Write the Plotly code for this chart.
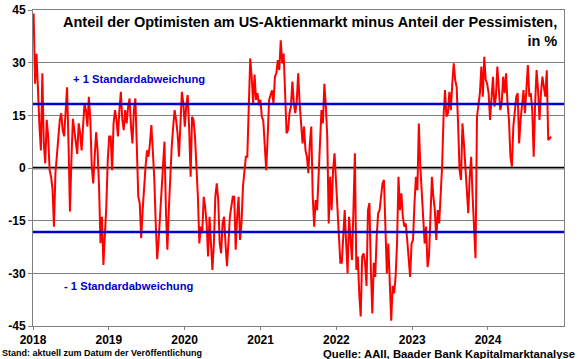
import pandas as pd
import plotly.graph_objects as go

# Weekly AAII bull-bear spread (in percentage points)
spread_2018 = [44, 24, 32.5, 20, 12, 5, 27, 7, 1.3, 13.7, 9, -0.6, -2.5, -6, -16.7, -1.5, 4, 9, 13.7, 15.6,
               10.8, 9, 14.6, 23, 7, -12.4, 2.3, 14, 10.8, 7, 4, 12.7, 9.9, 5, 11.8, 18.4, 16.5, 11.8, 20.3, 13.7,
               0.4, -4.4, 3.2, 10.2, 5, -5.3, -21.4, -13.9, -27.6, -20.5, -11, 2.3]
spread_2019 = [9, 9, -0.6, 12.7, 16.5, 13.7, 9, 16.5, 21.7, 13.7, 10.8, 16.5, 12.7, 17.5, 19.8, 11.8, 7, 16.5,
               19.8, 6, -8.2, -10, -20, -12, -4.4, 0.4, 5, 3.2, 7, 12.2, 5, -3, -15.7, -26, -20.5, -12.9, -6.3,
               -0.6, 7.5, -12, -23.3, -12, -0.6, 6, 11.8, 16.5, 13.7, 9.9, 3.2, 13.7, 21.7, 18.4]
spread_2020 = [11.8, 17.8, 20.8, 11.2, -2.5, 14.6, 13.7, 9, 0.4, -8.2, -21.5, -16.7, -18.6, -8.2, -11, -15.8,
               -25.2, -13.9, -21.5, -29, -21.5, -8.2, -4.4, -9.1, -21.5, -24.3, -15.8, -13.9, -21.5, -28, -21.5,
               -13.9, -11, -8.2, -8.2, -23.3, -13.9, -8.2, -20.5, -15.8, -5.3, -0.6, 3.2, 3.2, 14.6, 31.2, 26,
               18.4, 26.6, 19.4, 21.3, 17.9]
spread_2021 = [19.4, 14.6, 13.5, 5.1, -0.6, 8.9, 19.4, 20.8, 22.1, 18.4, 26, 27, 30.7, 27.9, 36.4, 29.8, 32.6,
               21.3, 9.9, 10.8, 15.6, 17.5, 24.6, 18.4, 15.6, 18.9, 27, 18.4, 10.8, 7, 11.8, 5.1, 3.2, -1.5, 7,
               11.8, -8.2, -16.7, -9.1, -12, -2.5, 8.9, 16.5, 12.7, 24, 17.8, 8.9, -15.8, -2.5, -12, -0.6, 4.2]
spread_2022 = [-4.4, -12.9, -20.5, -27, -27, -19.5, -12, -21.4, -30, -13.9, -19.5, -26.2, -12, 4.2, -29, -25.2,
               -35.7, -42.3, -25.2, -24.3, -27, -33.6, -12, -10, -29, -41.4, -27, -31, -19.5, -12.9, -12, -8.2,
               -4.4, -3.4, -19.5, -30, -21.5, -34.6, -43.5, -33.6, -35.7, -31, -21.5, -2.5, -12, -7.2, -13.9,
               -16.7, -15.8, -20.5, -27, -31]
spread_2023 = [-21.5, -20.5, -10, -2.5, -6.3, 12.7, 0.4, -8.2, -13.9, -21.5, -16.7, -28.2, -25, -12, -2.5, -8.2,
               -12, -20.5, -12, -15.8, -8.2, 0.4, 14.6, 22.2, 14.6, 15.6, 21.7, 16.5, 24, 29.8, 25.1, 23.1, 12.7,
               -0.6, -3.4, 12.7, 7, 1.3, -6.3, -12.9, -2.5, 3.2, -8.2, -15.8, -25.7, 14.6, 17.5, 21.3, 28.9,
               20.3, 31.7, 25.1]
spread_2024 = [24, 21.3, 13.7, 20.3, 26, 17.5, 20.3, 28.9, 22.2, 16.5, 18.4, 26, 21.3, 27, 18.4, 13.7, 3.2, 0.4,
               11.8, 16.5, 20.3, 21.3, 7, 13.7, 18.4, 22.2, 15.6, 22.2, 29.3, 20.3, 21.3, 16.5, 3.2, 18.4, 27.9,
               22.2, 13.7, 21.3, 26, 23.1, 20.3, 27.8, 8, 8.4, 8.9]

first_week = "2018-01-04"
std_upper = 18.2
std_lower = -18.2
y_ticks = [-45, -30, -15, 0, 15, 30, 45]
x_tick_dates = ["2018-01-01", "2019-01-01", "2020-01-01", "2021-01-01", "2022-01-01", "2023-01-01", "2024-01-01"]
x_tick_labels = ["2018", "2019", "2020", "2021", "2022", "2023", "2024"]

values = spread_2018 + spread_2019 + spread_2020 + spread_2021 + spread_2022 + spread_2023 + spread_2024
dates = pd.date_range(first_week, periods=len(values), freq="W-THU")

FONT = "Liberation Sans, Arial, sans-serif"
BLUE = "#0000CC"

fig = go.Figure()
fig.add_trace(go.Scatter(x=dates, y=values, mode="lines",
                         line=dict(color="#FF0000", width=2), hoverinfo="skip", showlegend=False))

fig.add_hline(y=0, line=dict(color="black", width=2.5), layer="below")
fig.add_hline(y=std_upper, line=dict(color=BLUE, width=2.5))
fig.add_hline(y=std_lower, line=dict(color=BLUE, width=2.5))

fig.update_layout(
    width=580, height=359,
    margin=dict(l=33, r=16, t=10, b=33, autoexpand=False),
    paper_bgcolor="white", plot_bgcolor="white",
    font=dict(family=FONT, size=12, color="black"),
    showlegend=False,
)
fig.update_xaxes(
    type="date", range=["2018-01-01", "2025-01-01"],
    tickvals=x_tick_dates, ticktext=x_tick_labels, automargin=False,
    ticks="outside", ticklen=3, tickcolor="#808080",
    showgrid=False, showline=True, linecolor="#808080", linewidth=1, mirror=True,
    tickfont=dict(size=12, family=FONT, weight="bold"),
)
fig.update_yaxes(
    range=[-45, 45], tickvals=y_ticks, ticktext=[str(t) for t in y_ticks], automargin=False,
    ticks="outside", ticklen=4, tickcolor="#808080",
    showgrid=True, gridcolor="#808080", gridwidth=1, zeroline=False,
    showline=True, linecolor="#808080", linewidth=1, mirror=True,
    tickfont=dict(size=12, family=FONT, weight="bold"),
)

ann = []
ann.append(dict(text="Anteil der Optimisten am US-Aktienmarkt minus Anteil der Pessimisten,<br>in %",
                xref="paper", yref="paper", x=0.9906, y=0.995, xanchor="right", yanchor="top",
                align="right", showarrow=False, font=dict(size=14.5, family=FONT, color="black", weight="bold")))
ann.append(dict(text="+ 1 Standardabweichung", xref="paper", yref="y", x=0.071, y=25.3,
                xanchor="left", yanchor="middle", showarrow=False,
                font=dict(size=11.2, family=FONT, color=BLUE, weight="bold")))
ann.append(dict(text="- 1 Standardabweichung", xref="paper", yref="y", x=0.054, y=-33.6,
                xanchor="left", yanchor="middle", showarrow=False,
                font=dict(size=11.2, family=FONT, color=BLUE, weight="bold")))
ann.append(dict(text="Stand: aktuell zum Datum der Veröffentlichung", xref="paper", yref="paper",
                x=-0.062, y=-0.085, xanchor="left", yanchor="middle", showarrow=False,
                font=dict(size=9, family=FONT, color="black", weight="bold")))
ann.append(dict(text="Quelle: AAII, Baader Bank Kapitalmarktanalyse", xref="paper", yref="paper",
                x=1.0245, y=-0.088, xanchor="right", yanchor="middle", showarrow=False,
                font=dict(size=11.3, family=FONT, color="black", weight="bold")))
fig.update_layout(annotations=ann)

fig.write_html("out.html", config={"displayModeBar": False},
               post_script="document.body.style.margin='0';document.body.style.padding='0';")
